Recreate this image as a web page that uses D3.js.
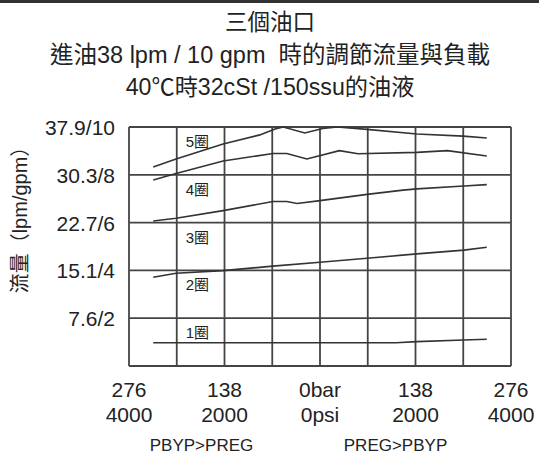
<!DOCTYPE html>
<html><head><meta charset="utf-8">
<script src="https://cdn.jsdelivr.net/npm/d3@7/dist/d3.min.js"></script>
<style>
html,body{margin:0;padding:0;background:#fff;}
text{font-family:"Liberation Sans","Noto Sans CJK TC",sans-serif;fill:#222;white-space:pre;}
</style></head>
<body><svg id="c" width="539" height="456"></svg>
<script>
// ---- data (x: bar, negative = PBYP>PREG side; y: gpm) ----
const titleLines = ["三個油口", "進油38 lpm / 10 gpm  時的調節流量與負載", "40℃時32cSt /150ssu的油液"];
const yTickValues = [2, 4, 6, 8, 10];
const yTickLabels = ["7.6/2", "15.1/4", "22.7/6", "30.3/8", "37.9/10"];
const xTickValues = [-276, -138, 0, 138, 276];
const xTickBar = ["276", "138", "0bar", "138", "276"];
const xTickPsi = ["4000", "2000", "0psi", "2000", "4000"];
const xGridValues = [-276, -207, -138, -69, 0, 69, 138, 207, 276];
const sideLabels = ["PBYP>PREG", "PREG>PBYP"];
const turnLabels = ["5圈", "4圈", "3圈", "2圈", "1圈"];
const turn5 = [[-241,8.33],[-208,8.66],[-140,9.29],[-87,9.67],[-65,9.92],[-53,10.0],[-22,9.75],[4,9.94],[25,10.0],[68,9.90],[140,9.71],[207,9.62],[241,9.54]];
const turn4 = [[-241,7.78],[-208,8.05],[-140,8.58],[-68,8.89],[-48,8.89],[-19,8.66],[28,9.01],[55,8.88],[140,8.94],[184,9.01],[241,8.79]];
const turn3 = [[-241,6.07],[-208,6.18],[-140,6.50],[-68,6.88],[-48,6.88],[-33,6.80],[0,6.92],[68,7.18],[120,7.36],[140,7.41],[208,7.53],[241,7.59]];
const turn2 = [[-241,3.71],[-208,3.88],[-140,3.99],[-68,4.18],[0,4.34],[68,4.51],[140,4.69],[208,4.85],[241,4.97]];
const turn1 = [[-241,0.97],[110,0.97],[140,1.02],[208,1.09],[241,1.12]];
const series = [turn5, turn4, turn3, turn2, turn1];

// ---- layout ----
const svg = d3.select("#c");
const L = 129, R = 511, T = 127, B = 366;
const x = d3.scaleLinear().domain([-276, 276]).range([L, R]);
const y = d3.scaleLinear().domain([0, 10]).range([B, T]);

// top bar
svg.append("rect").attr("x", 0).attr("y", 0).attr("width", 539).attr("height", 3).attr("fill", "#333");

// titles
const tY = [30, 63, 95];
const tS = [22.5, 23.5, 23.2];
titleLines.forEach((t, i) => {
  svg.append("text").attr("x", 270).attr("y", tY[i]).attr("text-anchor", "middle")
    .attr("font-size", tS[i]).text(t);
});

// grid
const g = svg.append("g");
g.selectAll(".vg").data(xGridValues).join("line")
  .attr("x1", d => x(d)).attr("x2", d => x(d)).attr("y1", T).attr("y2", B)
  .attr("stroke", "#444").attr("stroke-width", 1.8);
g.selectAll(".hg").data([0, ...yTickValues]).join("line")
  .attr("x1", L).attr("x2", R).attr("y1", d => y(d)).attr("y2", d => y(d))
  .attr("stroke", "#444").attr("stroke-width", 1.8);

// y tick labels
svg.selectAll(".yl").data(yTickValues).join("text")
  .attr("x", 115).attr("y", d => y(d) + 8).attr("text-anchor", "end")
  .attr("font-size", 21).text((d, i) => yTickLabels[i]);

// x tick labels
svg.selectAll(".xl1").data(xTickValues).join("text")
  .attr("x", d => x(d)).attr("y", 397).attr("text-anchor", "middle")
  .attr("font-size", 21).text((d, i) => xTickBar[i]);
svg.selectAll(".xl2").data(xTickValues).join("text")
  .attr("x", d => x(d)).attr("y", 422).attr("text-anchor", "middle")
  .attr("font-size", 21).text((d, i) => xTickPsi[i]);

// side labels
[[-138, 0], [138, 1]].forEach(([v, i]) => {
  svg.append("text").attr("x", x(v) - 23 + (i ? 3 : 0)).attr("y", 451).attr("text-anchor", "middle")
    .attr("font-size", 17).text(sideLabels[i]);
});

// y axis title
svg.append("text").attr("transform", "translate(27,215) rotate(-90)")
  .attr("text-anchor", "middle").attr("font-size", 20).text("流量（lpm/gpm）");

// series lines
const line = d3.line().x(d => x(d[0])).y(d => y(d[1]));
svg.selectAll(".s").data(series).join("path")
  .attr("d", line).attr("fill", "none").attr("stroke", "#333").attr("stroke-width", 1.6);

// turn labels
const bandTops = [10, 8, 6, 4, 2];
svg.selectAll(".tl").data(turnLabels).join("text")
  .attr("x", x(-207) + 9).attr("y", (d, i) => y(bandTops[i]) + 20)
  .attr("font-size", 15).text(d => d);
</script></body></html>
